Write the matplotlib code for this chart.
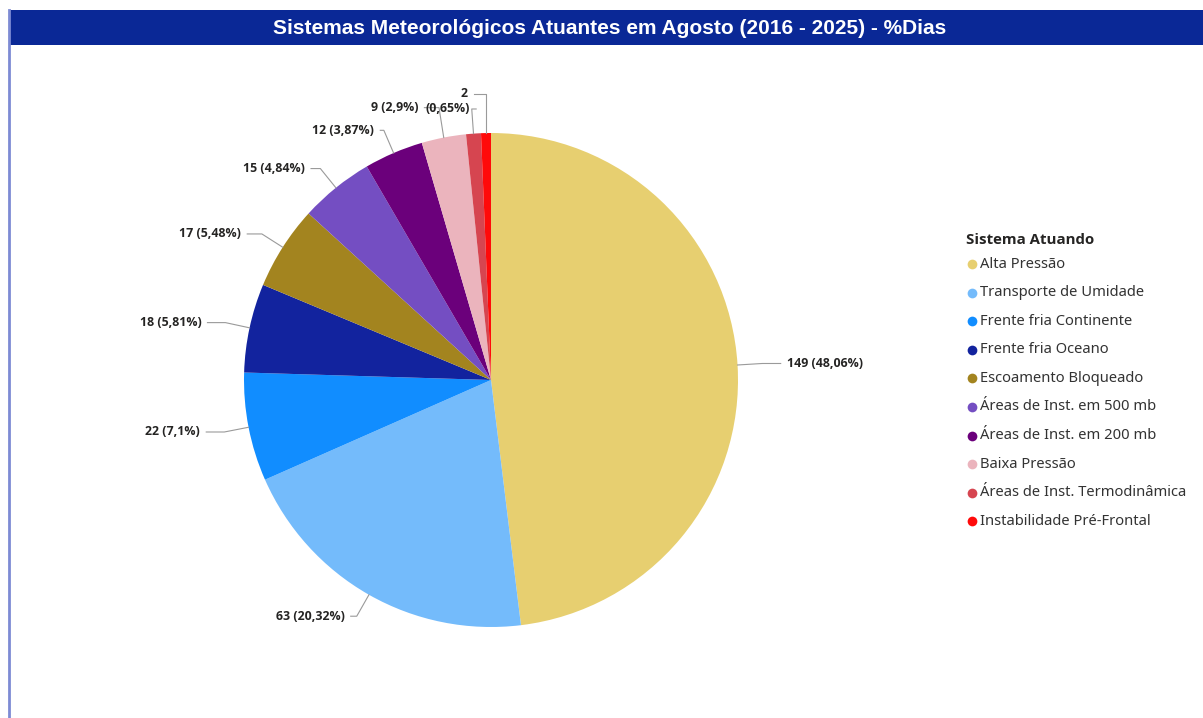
import numpy as np
import matplotlib
matplotlib.use("Agg")
import matplotlib.pyplot as plt

# dados
sistemas = ['Alta Pressão', 'Transporte de Umidade', 'Frente fria Continente',
            'Frente fria Oceano', 'Escoamento Bloqueado', 'Áreas de Inst. em 500 mb',
            'Áreas de Inst. em 200 mb', 'Baixa Pressão', 'Áreas de Inst. Termodinâmica',
            'Instabilidade Pré-Frontal']
dias = [149, 63, 22, 18, 17, 15, 12, 9, 3, 2]
rotulos = ['149 (48,06%)', '63 (20,32%)', '22 (7,1%)', '18 (5,81%)', '17 (5,48%)',
           '15 (4,84%)', '12 (3,87%)', '9 (2,9%)', '(0,65%)', '2']
cores = ['#E7CF70', '#74BBFB', '#118DFF', '#12239E', '#A3841F',
         '#744EC2', '#6B007B', '#EBB4BD', '#D64550', '#FF0A0A']

W, H = 1203, 718
fig = plt.figure(figsize=(W / 100, H / 100), dpi=100)
fig.patch.set_facecolor('white')

# eixo do gráfico de pizza: centro (491, 380) px, raio 247 px
R = 247
cx, cy = 491, H - 380
xr, yr = 1.5, 1.35
ax = fig.add_axes([(cx - xr * R) / W, (cy - yr * R) / H, 2 * xr * R / W, 2 * yr * R / H])
wedges, _ = ax.pie(dias, colors=cores, startangle=90, counterclock=False,
                   radius=1.0, wedgeprops=dict(linewidth=0))
ax.set_aspect('auto')
ax.set_xlim(-xr, xr)
ax.set_ylim(-yr, yr)
ax.axis('off')

# rótulos com linhas de chamada (pequenos deslocamentos para evitar sobreposição)
ajustes = {7: (-0.065, 0.023), 9: (-0.07, 0.06)}
for i, (w, txt) in enumerate(zip(wedges, rotulos)):
    ang = np.deg2rad((w.theta1 + w.theta2) / 2)
    c, s = np.cos(ang), np.sin(ang)
    tx, ty = 1.2 * c, 1.1 * s
    dx, dy = ajustes.get(i, (0, 0))
    tx, ty = tx + dx, ty + dy
    lado = 1 if c >= 0 else -1
    ex = 1.0 * c if i == 9 else 1.1 * c
    ax.plot([1.0 * c, ex, tx - lado * 0.025], [1.0 * s, ty, ty],
            color='#9a9a9a', lw=0.8, clip_on=False)
    ax.text(tx, ty, txt, ha='left' if lado > 0 else 'right', va='center',
            fontsize=8.9, fontweight='bold', color='#252423', family='Open Sans')

# camada de sobreposição em pixels: barra de título, borda e legenda
ov = fig.add_axes([0, 0, 1, 1], facecolor='none')
ov.set_xlim(0, W)
ov.set_ylim(H, 0)
ov.axis('off')

ov.add_patch(plt.Rectangle((10, 10), W - 10, 35, color='#0A2896', lw=0))
ov.plot([9, 9], [10, H], color='#7D8BD4', lw=2)
ov.text(610, 28, 'Sistemas Meteorológicos Atuantes em Agosto (2016 - 2025) - %Dias',
        ha='center', va='center', color='white', fontsize=15, fontweight='bold',
        family='Liberation Sans')

ov.text(966, 240, 'Sistema Atuando', ha='left', va='center', fontsize=10.8,
        fontweight='bold', color='#252423', family='Open Sans')
for k, (nome, cor) in enumerate(zip(sistemas, cores)):
    y = 264 + k * 28.6
    ov.plot(972, y, 'o', color=cor, ms=7, mec='none')
    ov.text(980, y, nome, ha='left', va='center', fontsize=10.6, color='#333333',
            family='Noto Sans')

fig.savefig('out.png', dpi=100)
